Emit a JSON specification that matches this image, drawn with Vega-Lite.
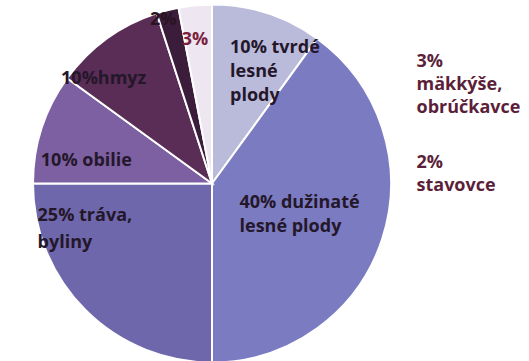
{
  "$schema": "https://vega.github.io/schema/vega-lite/v6.json",
  "padding": 0,
  "background": "white",
  "bounds": "flush",
  "config": {
    "view": {"stroke": null},
    "concat": {"spacing": 0},
    "text": {"font": "Open Sans", "fontWeight": "bold", "fontSize": 18, "lineHeight": 24}
  },
  "datasets": {
    "diet": [
      {"idx": 1, "food": "tvrdé lesné plody", "share": 10, "label": "10% tvrdé\nlesné\nplody"},
      {"idx": 2, "food": "dužinaté lesné plody", "share": 40, "label": "40% dužinaté\nlesné plody"},
      {"idx": 3, "food": "tráva, byliny", "share": 25, "label": "25% tráva,\nbyliny"},
      {"idx": 4, "food": "obilie", "share": 10, "label": "10% obilie"},
      {"idx": 5, "food": "hmyz", "share": 10, "label": "10%hmyz"},
      {"idx": 6, "food": "stavovce", "share": 2, "label": "2%"},
      {"idx": 7, "food": "mäkkýše, obrúčkavce", "share": 3, "label": "3%"}
    ]
  },
  "hconcat": [
    {
      "width": 424,
      "height": 361,
      "data": {"name": "diet"},
      "encoding": {
        "theta": {"field": "share", "type": "quantitative", "stack": true},
        "order": {"field": "idx", "type": "quantitative"}
      },
      "layer": [
        {
          "mark": {"type": "arc", "outerRadius": 179, "stroke": "white", "strokeWidth": 2},
          "encoding": {
            "color": {
              "field": "food",
              "type": "nominal",
              "scale": {
                "domain": ["tvrdé lesné plody", "dužinaté lesné plody", "tráva, byliny", "obilie", "hmyz", "stavovce", "mäkkýše, obrúčkavce"],
                "range": ["#babbdb", "#7b7bc1", "#6e67ab", "#7d60a2", "#5a2d57", "#3b1c3a", "#eee6f0"]
              },
              "legend": null
            }
          }
        },
        {
          "mark": {"type": "text", "radius": 120, "align": "left", "baseline": "top", "dx": -19, "dy": -30, "lineBreak": "\n", "color": "#24172a"},
          "encoding": {"text": {"condition": {"test": "datum.idx === 1", "field": "label"}, "value": ""}}
        },
        {
          "mark": {"type": "text", "radius": 92, "align": "left", "baseline": "top", "dx": -60, "dy": -18, "lineBreak": "\n", "color": "#24172a"},
          "encoding": {"text": {"condition": {"test": "datum.idx === 2", "field": "label"}, "value": ""}}
        },
        {
          "mark": {"type": "text", "radius": 60, "align": "left", "baseline": "top", "dx": -132, "dy": -19, "lineHeight": 27, "lineBreak": "\n", "color": "#24172a"},
          "encoding": {"text": {"condition": {"test": "datum.idx === 3", "field": "label"}, "value": ""}}
        },
        {
          "mark": {"type": "text", "radius": 130, "align": "center", "baseline": "middle", "dx": -2, "dy": 18, "color": "#24172a"},
          "encoding": {"text": {"condition": {"test": "datum.idx === 4", "field": "label"}, "value": ""}}
        },
        {
          "mark": {"type": "text", "radius": 140, "align": "center", "baseline": "middle", "dx": -26, "dy": 9, "color": "#24172a"},
          "encoding": {"text": {"condition": {"test": "datum.idx === 5", "field": "label"}, "value": ""}}
        },
        {
          "mark": {"type": "text", "radius": 172, "align": "center", "baseline": "middle", "dx": -6, "dy": 3, "color": "#2a1420"},
          "encoding": {"text": {"condition": {"test": "datum.idx === 6", "field": "label"}, "value": ""}}
        },
        {
          "mark": {"type": "text", "radius": 150, "align": "center", "baseline": "middle", "dx": -3, "dy": 6, "color": "#7a1e3e"},
          "encoding": {"text": {"condition": {"test": "datum.idx === 7", "field": "label"}, "value": ""}}
        }
      ]
    },
    {
      "width": 1,
      "height": 202,
      "data": {"name": "diet"},
      "transform": [
        {"filter": "datum.share < 5"},
        {"calculate": "datum.share + '%\\n' + replace(datum.food, ', ', ',\\n')", "as": "note"}
      ],
      "mark": {"type": "text", "align": "left", "baseline": "top", "dx": -8, "dy": -1, "lineBreak": "\n", "lineHeight": 23, "color": "#5c1f3a"},
      "encoding": {
        "y": {"field": "idx", "type": "ordinal", "sort": "descending", "scale": {"type": "point", "padding": 0.5}, "axis": null},
        "text": {"field": "note"}
      }
    }
  ]
}
